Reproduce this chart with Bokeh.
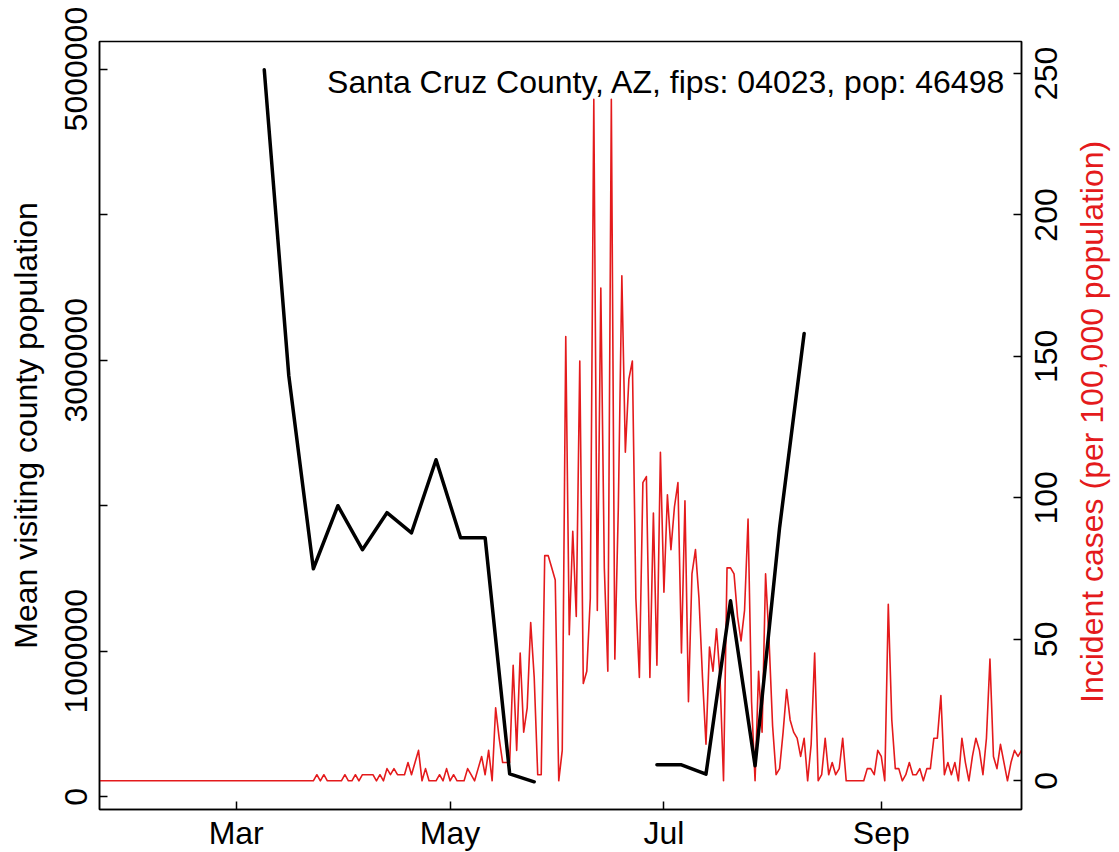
import math
import numpy as np
import pandas as pd
from bokeh.plotting import figure
from bokeh.models import (Range1d, LinearAxis, FixedTicker, Label,
                          DatetimeTickFormatter, BasicTickFormatter)
from bokeh.embed import file_html
from bokeh.resources import INLINE

FONT = "Liberation Sans"
FS_PX = 32
FS = "%dpx" % FS_PX
RED = "#E41A1C"

county_label = "Santa Cruz County, AZ, fips: 04023, pop: 46498"
population = 46498
left_title = "Mean visiting county population"
right_title = "Incident cases (per 100,000 population)"

# daily new cases, one value per day from 2020-01-22
case_first_day = "2020-01-22"
daily_cases = [
    0, 0, 0, 0, 0, 0, 0, 0, 0, 0, 0, 0, 0, 0, 0, 0, 0, 0, 0, 0,
    0, 0, 0, 0, 0, 0, 0, 0, 0, 0, 0, 0, 0, 0, 0, 0, 0, 0, 0, 0,
    0, 0, 0, 0, 0, 0, 0, 0, 0, 0, 0, 0, 0, 0, 0, 0, 0, 0, 0, 0,
    0, 0, 1, 0, 1, 0, 0, 0, 0, 0, 1, 0, 0, 1, 0, 1, 1, 1, 1, 0,
    1, 0, 2, 1, 2, 1, 1, 1, 3, 1, 3, 5, 0, 2, 0, 0, 0, 1, 0, 2,
    0, 1, 0, 0, 0, 2, 1, 0, 2, 4, 1, 5, 0, 12, 7, 3, 3, 3, 19, 5,
    21, 8, 12, 26, 17, 1, 1, 37, 37, 35, 33, 0, 5, 73, 24, 41, 27, 69, 16, 18,
    30, 112, 28, 81, 35, 18, 112, 20, 45, 83, 54, 66, 69, 30, 17, 49, 50, 17, 44, 19,
    54, 31, 47, 38, 45, 49, 21, 46, 13, 34, 38, 30, 17, 6, 22, 18, 25, 17, 0, 35,
    35, 34, 27, 23, 28, 43, 13, 0, 18, 8, 34, 23, 9, 1, 2, 8, 15, 10, 8, 7,
    4, 7, 0, 6, 21, 0, 1, 7, 1, 3, 1, 2, 7, 0, 0, 0, 0, 0, 0, 2,
    2, 1, 5, 4, 0, 29, 10, 2, 2, 0, 1, 3, 1, 1, 2, 0, 2, 2, 7, 7,
    14, 1, 3, 1, 3, 0, 7, 3, 0, 4, 7, 5, 1, 7, 20, 4, 2, 6, 3, 0,
    3, 5, 4, 5,
]

# weekly mean visiting population (gap = missing weeks)
visit_dates = [
    "2020-03-09", "2020-03-16", "2020-03-23", "2020-03-30", "2020-04-06",
    "2020-04-13", "2020-04-20", "2020-04-27", "2020-05-04", "2020-05-11",
    "2020-05-18", "2020-05-25", "2020-06-01", "2020-06-08", "2020-06-15",
    "2020-06-22", "2020-06-29", "2020-07-06", "2020-07-13", "2020-07-20",
    "2020-07-27", "2020-08-03", "2020-08-10",
]
visit_mean = [
    4995000, 2893000, 1567000, 2000000, 1698000,
    1952000, 1814000, 2316000, 1780000, 1780000,
    158000, 103000, np.nan, np.nan, np.nan,
    np.nan, 220000, 220000, 156000, 1347000,
    213000, 1851000, 3184000,
]

month_ticks = ["2020-03-01", "2020-05-01", "2020-07-01", "2020-09-01"]
visit_ticks_labeled = [0, 1000000, 3000000, 5000000]
visit_ticks_unlabeled = [2000000, 4000000]
incidence_ticks = [0, 50, 100, 150, 200, 250]

case_dates = pd.date_range(case_first_day, periods=len(daily_cases), freq="D")
incidence = np.array(daily_cases, dtype=float) * 100000.0 / population
vdates = pd.to_datetime(visit_dates)
vmean = np.array(visit_mean, dtype=float)

FRAME_W, FRAME_H = 922, 768
right_lo, right_hi = -10.14, 261.3
px_per_unit = FRAME_H / (right_hi - right_lo)

p = figure(frame_width=FRAME_W, frame_height=FRAME_H, x_axis_type="datetime",
           x_range=Range1d(case_dates[0], case_dates[-1]),
           y_range=Range1d(-87260, 5189700),
           output_backend="svg", toolbar_location=None,
           min_border_left=99, min_border_right=98,
           min_border_top=41, min_border_bottom=43)
p.extra_y_ranges = {"cases": Range1d(right_lo, right_hi)}
p.xgrid.visible = False
p.ygrid.visible = False
p.outline_line_color = "black"
p.outline_line_width = 1.5
p.background_fill_color = "white"
p.border_fill_color = "white"

p.line(case_dates, incidence, y_range_name="cases", line_color=RED,
       line_width=1.6, line_join="round")
p.line(vdates, vmean, line_color="black", line_width=3.5, line_join="round",
       line_cap="round")


def style_axis(ax):
    ax.axis_line_color = "black"
    ax.axis_line_width = 1.5
    ax.major_tick_in = 8
    ax.major_tick_out = 0
    ax.major_tick_line_width = 1.5
    ax.major_tick_line_color = "black"
    ax.minor_tick_in = 0
    ax.minor_tick_out = 0
    ax.major_label_text_font = FONT
    ax.major_label_text_font_size = FS
    ax.major_label_text_color = "black"
    ax.major_label_standoff = 8
    ax.axis_label_text_font = FONT
    ax.axis_label_text_font_size = FS
    ax.axis_label_text_font_style = "normal"


xa = p.xaxis[0]
style_axis(xa)
xa.ticker = FixedTicker(ticks=[pd.Timestamp(t).value / 1e6 for t in month_ticks])
xa.formatter = DatetimeTickFormatter(months="%b", days="%b")
xa.major_label_standoff = 5

ya = p.yaxis[0]
style_axis(ya)
ya.ticker = FixedTicker(ticks=visit_ticks_labeled, minor_ticks=visit_ticks_unlabeled)
ya.minor_tick_in = 8
ya.minor_tick_line_width = 1.5
ya.minor_tick_line_color = "black"
ya.major_label_orientation = "parallel"
ya.major_label_standoff = 12
ya.formatter = BasicTickFormatter(use_scientific=False)
ya.axis_label = left_title
ya.axis_label_text_color = "black"
ya.axis_label_standoff = 19

# right axis: rotated labels are drawn from their start point, so each label
# tick is moved down by half the label length to centre it on its tick mark
digit_px = 0.556 * FS_PX
label_pos = [round(t - len(str(t)) * digit_px / 2 / px_per_unit, 4) for t in incidence_ticks]
ra = LinearAxis(y_range_name="cases",
                ticker=FixedTicker(ticks=label_pos, minor_ticks=incidence_ticks))
style_axis(ra)
ra.major_tick_in = 0
ra.minor_tick_in = 8
ra.minor_tick_line_width = 1.5
ra.minor_tick_line_color = "black"
ra.major_label_overrides = {pos: str(t) for pos, t in zip(label_pos, incidence_ticks)}
ra.major_label_orientation = math.pi / 2
ra.major_label_standoff = 25
p.add_layout(ra, "right")

# right-hand title, as a one-tick axis so that it reads upward and is centred
title_len_px = 17.34 * FS_PX
title_start = round(right_lo + (FRAME_H / 2 - title_len_px / 2) / px_per_unit, 4)
rt = LinearAxis(y_range_name="cases",
                ticker=FixedTicker(ticks=[title_start], minor_ticks=[]))
style_axis(rt)
rt.axis_line_color = None
rt.major_tick_in = 0
rt.major_label_overrides = {title_start: right_title}
rt.major_label_text_color = RED
rt.major_label_orientation = math.pi / 2
rt.major_label_standoff = 21
p.add_layout(rt, "right")

p.add_layout(Label(x=pd.Timestamp("2020-10-06 14:00"), y=4909700, text=county_label,
                   text_font=FONT, text_font_size=FS, text_color="black",
                   text_align="right", text_baseline="alphabetic"))

open("out.html", "w").write(file_html(p, INLINE))
